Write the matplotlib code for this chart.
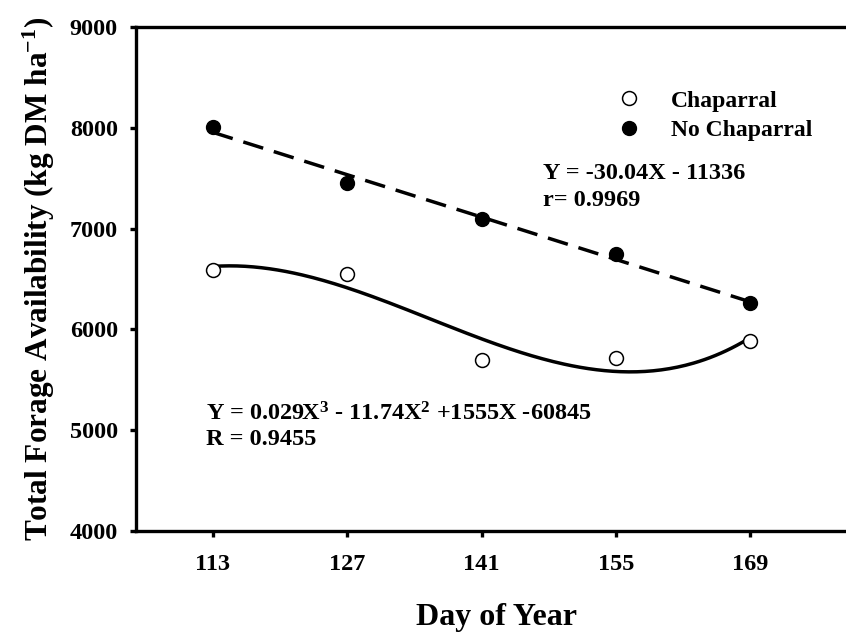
import numpy as np
import matplotlib
matplotlib.use("Agg")
import matplotlib.pyplot as plt

plt.rcParams['font.family'] = 'Liberation Serif'
plt.rcParams['font.weight'] = 'bold'
plt.rcParams['mathtext.fontset'] = 'custom'
plt.rcParams['mathtext.rm'] = 'Liberation Serif:bold'
plt.rcParams['mathtext.it'] = 'Liberation Serif:italic:bold'
plt.rcParams['mathtext.bf'] = 'Liberation Serif:bold'

# forage availability by day of year
days = [113, 127, 141, 155, 169]
chaparral = [6590, 6550, 5700, 5720, 5885]
no_chaparral = [8010, 7455, 7095, 6750, 6260]
x_ticks = [113, 127, 141, 155, 169]
y_ticks = [4000, 5000, 6000, 7000, 8000, 9000]

fig = plt.figure(figsize=(8.46, 6.32), dpi=100)
ax = fig.add_axes([0.1608, 0.1598, 0.851, 0.7975])

# regression fits
xs = np.linspace(days[0], days[-1], 200)
lin = np.polyfit(days, no_chaparral, 1)
cub = np.polyfit(days, chaparral, 3)
ax.plot(xs, np.polyval(lin, xs), color='black', lw=2.5, dashes=(6, 3.2), zorder=2)
ax.plot(xs, np.polyval(cub, xs), color='black', lw=2.5, zorder=2)

ax.plot(days, chaparral, 'o', ms=10, mfc='white', mec='black', mew=1.1,
        label='Chaparral', zorder=3)
ax.plot(days, no_chaparral, 'o', ms=10, mfc='black', mec='black',
        label='No Chaparral', zorder=3)

ax.set_xlim(105, 180)
ax.set_ylim(4000, 9000)
ax.set_xticks(x_ticks)
ax.set_yticks(y_ticks)
ax.tick_params(direction='out', length=4.5, width=2.4, labelsize=17.5)
ax.tick_params(axis='x', pad=12)
ax.tick_params(axis='y', pad=8.5)
for side in ['left', 'bottom', 'top']:
    ax.spines[side].set_linewidth(2.4)
ax.spines['right'].set_visible(False)

ax.set_xlabel('Day of Year', fontsize=23, fontweight='bold', labelpad=20)
ax.set_ylabel('Total Forage Availability (kg DM ha$^{-1}$)', fontsize=22.5,
              fontweight='bold', labelpad=9)

ax.text(147.4, 7489, 'Y = -30.04X - 11336', fontsize=17.5, va='baseline')
ax.text(147.4, 7224, 'r= 0.9969', fontsize=17.5, va='baseline')
ax.text(112.3, 5094, 'Y = 0.029X$^{3}$ - 11.74X$^{2}$ +1555X -60845',
        fontsize=17.5, va='baseline')
ax.text(112.3, 4853, 'R = 0.9455', fontsize=17.5, va='baseline')

ax.legend(loc='upper left', bbox_to_anchor=(617 / 846, 1 - 90 / 632),
          bbox_transform=fig.transFigure, frameon=False, fontsize=17,
          handlelength=1.0, handletextpad=1.3, borderpad=0, borderaxespad=0,
          labelspacing=0.35)

fig.savefig('out.png', dpi=100)
